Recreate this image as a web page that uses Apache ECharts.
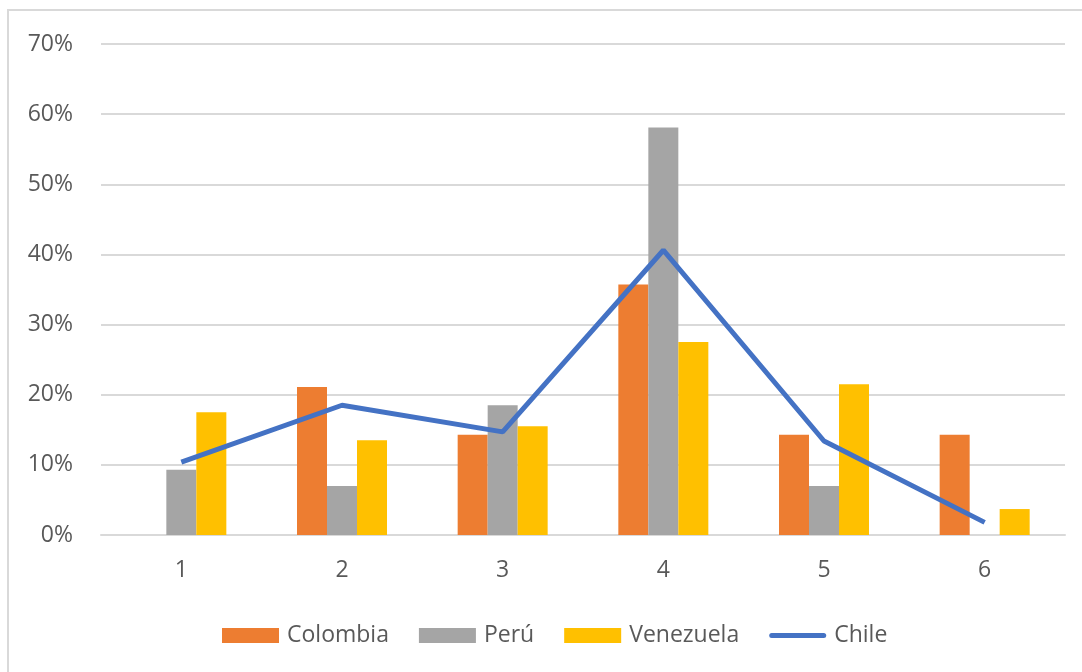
<!DOCTYPE html>
<html>
<head>
<meta charset="utf-8">
<script src="https://cdn.jsdelivr.net/npm/echarts@6/dist/echarts.min.js"></script>
<style>
html,body{margin:0;padding:0;background:#fff;}
#chart{width:1082px;height:672px;}
</style>
</head>
<body>
<div id="chart"></div>
<script>
var categories = ['1','2','3','4','5','6'];
var colombia = [0, 0.211, 0.143, 0.357, 0.143, 0.143];
var peru = [0.093, 0.070, 0.185, 0.581, 0.070, 0];
var venezuela = [0.175, 0.135, 0.155, 0.275, 0.215, 0.037];
var chile = [0.104, 0.185, 0.147, 0.406, 0.134, 0.018];
var yTicks = [0, 0.1, 0.2, 0.3, 0.4, 0.5, 0.6, 0.7];

var FONT = '"Open Sans", "Noto Sans", sans-serif';
var FS = 23;
var chart = echarts.init(document.getElementById('chart'));
chart.setOption({
  animation: false,
  backgroundColor: '#ffffff',
  graphic: [{
    type: 'polyline',
    shape: { points: [[8, 672], [8, 10], [1082, 10]] },
    style: { stroke: '#d9d9d9', lineWidth: 2, fill: null },
    silent: true
  }],
  grid: { left: 101, right: 17, top: 44, bottom: 137, containLabel: false },
  legend: {
    top: 619,
    left: 217,
    itemWidth: 57,
    itemHeight: 15,
    itemGap: 30,
    symbolKeepAspect: true,
    textStyle: { color: '#595959', fontSize: FS, fontFamily: FONT, padding: [0, 0, 0, 3] },
    data: [
      { name: 'Colombia', icon: 'rect' },
      { name: 'Perú', icon: 'rect' },
      { name: 'Venezuela', icon: 'rect' },
      { name: 'Chile', icon: 'path://M2.5,0 L54.5,0 A2.5,2.5 0 0 1 54.5,5 L2.5,5 A2.5,2.5 0 0 1 2.5,0 Z', itemStyle: { color: '#4472C4' } }
    ]
  },
  xAxis: {
    type: 'category',
    data: categories,
    axisLine: { lineStyle: { color: '#d9d9d9', width: 2 } },
    axisTick: { show: false },
    axisLabel: { color: '#595959', fontSize: FS, fontFamily: FONT, margin: 24 }
  },
  yAxis: {
    type: 'value',
    min: 0,
    max: 0.7,
    interval: 0.1,
    axisLine: { show: false },
    axisTick: { show: false },
    splitLine: { lineStyle: { color: '#d9d9d9', width: 2 } },
    axisLabel: {
      color: '#595959', fontSize: FS, fontFamily: FONT, margin: 28,
      formatter: function (v) { return Math.round(v * 100) + '%'; }
    }
  },
  series: [
    { name: 'Colombia', type: 'bar', data: colombia, barWidth: 30, barGap: '0%', itemStyle: { color: '#ED7D31' } },
    { name: 'Perú', type: 'bar', data: peru, barWidth: 30, barGap: '0%', itemStyle: { color: '#A5A5A5' } },
    { name: 'Venezuela', type: 'bar', data: venezuela, barWidth: 30, barGap: '0%', itemStyle: { color: '#FFC000' } },
    { name: 'Chile', type: 'line', data: chile, symbol: 'none', lineStyle: { color: '#4472C4', width: 5 }, itemStyle: { color: '#4472C4' } }
  ]
});
</script>
</body>
</html>
